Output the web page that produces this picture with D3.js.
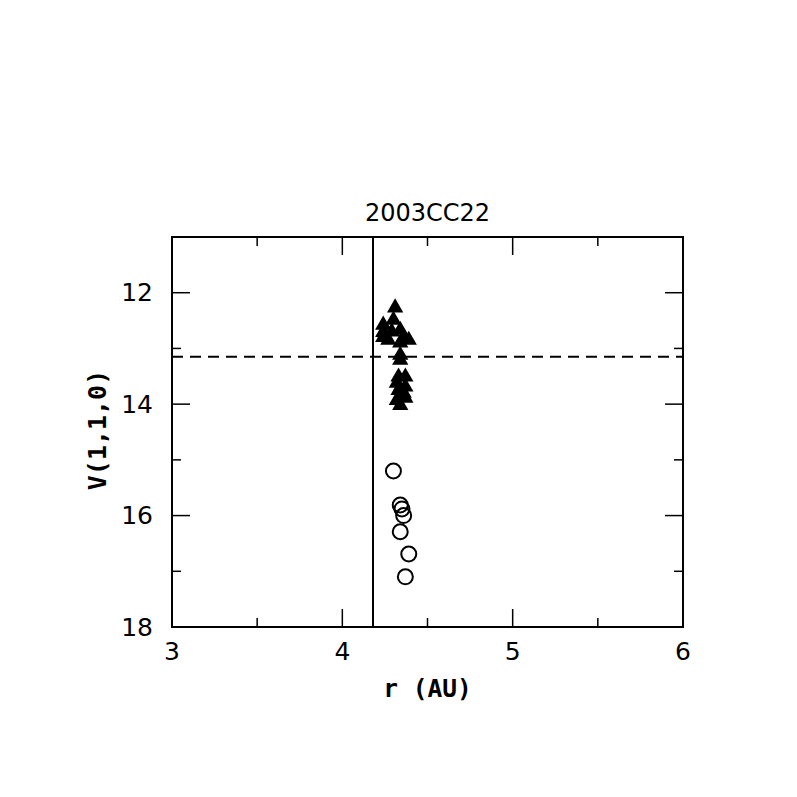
<!DOCTYPE html>
<html>
<head>
<meta charset="utf-8">
<script src="https://cdn.jsdelivr.net/npm/d3@7"></script>
<style>
  body { margin: 0; background: #fff; }
  svg text { fill: #000; }
</style>
</head>
<body>
<div id="root"></div>
<script>
const title = "2003CC22"
const xLabel = "r (AU)"
const yLabel = "V(1,1,0)"

// triangles: r (AU), V(1,1,0)
const triR = [4.31, 4.24, 4.30, 4.24, 4.24, 4.34, 4.36, 4.39, 4.34, 4.34, 4.34,
  4.33, 4.37, 4.32, 4.37, 4.33, 4.36, 4.32, 4.37, 4.34, 4.27, 4.29]
const triV = [12.27, 12.58, 12.49, 12.71, 12.80, 12.67, 12.80, 12.85, 12.90, 13.12, 13.21,
  13.51, 13.51, 13.62, 13.69, 13.75, 13.80, 13.93, 13.89, 14.02, 12.85, 12.70]

// open circles
const circR = [4.30, 4.34, 4.35, 4.36, 4.34, 4.39, 4.37]
const circV = [15.20, 15.81, 15.88, 16.00, 16.29, 16.69, 17.10]

const rLimit = 4.18   // vertical line
const vLimit = 13.15  // dashed line

const xMajor = [3, 4, 5, 6]
const xMinor = [3.5, 4.5, 5.5]
const yMajor = [12, 14, 16, 18]
const yMinor = [11, 13, 15, 17]

const W = 797, H = 797
const margin = { top: 237, left: 172, right: 797 - 683, bottom: 797 - 627 }
const w = W - margin.left - margin.right
const h = H - margin.top - margin.bottom

const x = d3.scaleLinear().domain([3, 6]).range([0, w])
const y = d3.scaleLinear().domain([11, 18]).range([0, h])

const svg = d3.select("#root").append("svg")
  .attr("width", W).attr("height", H)

const g = svg.append("g")
  .attr("transform", `translate(${margin.left} ${margin.top})`)

const lab = "'DejaVu Sans Mono', monospace"
const num = "'DejaVu Sans', sans-serif"

// ticks (inside, on all four sides)
const ticks = g.append("g").attr("stroke", "#000").attr("stroke-width", 1.5)
xMajor.concat(xMinor).forEach(v => {
  const len = xMajor.includes(v) ? 18 : 9
  ticks.append("line").attr("x1", x(v)).attr("x2", x(v)).attr("y1", h).attr("y2", h - len)
  ticks.append("line").attr("x1", x(v)).attr("x2", x(v)).attr("y1", 0).attr("y2", len)
})
yMajor.concat(yMinor).forEach(v => {
  const len = yMajor.includes(v) ? 18 : 9
  ticks.append("line").attr("y1", y(v)).attr("y2", y(v)).attr("x1", 0).attr("x2", len)
  ticks.append("line").attr("y1", y(v)).attr("y2", y(v)).attr("x1", w).attr("x2", w - len)
})

// frame
g.append("rect")
  .attr("width", w).attr("height", h)
  .attr("fill", "none").attr("stroke", "#000").attr("stroke-width", 2)

// reference lines
g.append("line")
  .attr("x1", x(rLimit)).attr("x2", x(rLimit)).attr("y1", 0).attr("y2", h)
  .attr("stroke", "#000").attr("stroke-width", 2)

g.append("line")
  .attr("x1", 0).attr("x2", w).attr("y1", y(vLimit)).attr("y2", y(vLimit))
  .attr("stroke", "#000").attr("stroke-width", 2)
  .attr("stroke-dasharray", "11 7")

// tick labels
g.append("g").selectAll("text").data(xMajor).enter().append("text")
  .attr("x", d => x(d)).attr("y", h + 33)
  .attr("text-anchor", "middle")
  .attr("font-family", num).attr("font-size", 25)
  .text(d => d)

g.append("g").selectAll("text").data(yMajor).enter().append("text")
  .attr("x", -19).attr("y", d => y(d))
  .attr("text-anchor", "end").attr("dominant-baseline", "central")
  .attr("font-family", num).attr("font-size", 25)
  .text(d => d)

// points
const tri = d3.symbol().type(d3.symbolTriangle).size(115)
g.append("g").selectAll("path").data(triR.map((r, i) => [r, triV[i]])).enter()
  .append("path")
  .attr("d", tri)
  .attr("transform", d => `translate(${x(d[0])} ${y(d[1])})`)
  .attr("fill", "#000")

g.append("g").selectAll("circle").data(circR.map((r, i) => [r, circV[i]])).enter()
  .append("circle")
  .attr("cx", d => x(d[0])).attr("cy", d => y(d[1])).attr("r", 7.5)
  .attr("fill", "none").attr("stroke", "#000").attr("stroke-width", 2)

// titles
svg.append("text")
  .attr("x", margin.left + w / 2).attr("y", 221)
  .attr("text-anchor", "middle")
  .attr("font-family", num).attr("font-size", 24)
  .text(title)

svg.append("text")
  .attr("x", margin.left + w / 2).attr("y", 697)
  .attr("text-anchor", "middle")
  .attr("font-family", lab).attr("font-size", 24.5).attr("font-weight", 700)
  .text(xLabel)

svg.append("text")
  .attr("transform", `translate(106 ${margin.top + h / 2 - 2}) rotate(-90)`)
  .attr("text-anchor", "middle")
  .attr("font-family", lab).attr("font-size", 25).attr("font-weight", 700)
  .text(yLabel)
</script>
</body>
</html>
